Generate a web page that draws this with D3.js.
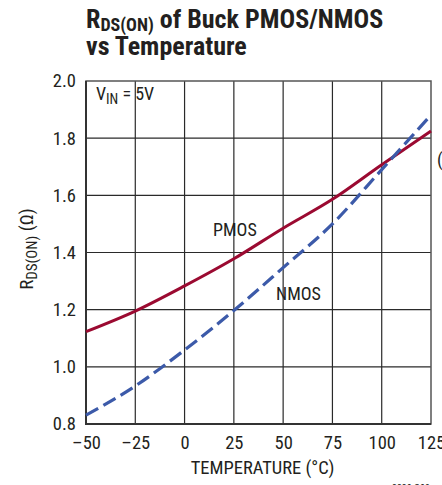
<!DOCTYPE html>
<html>
<head>
<meta charset="utf-8">
<script src="https://cdn.jsdelivr.net/npm/d3@7"></script>
<style>
  body { margin: 0; background: #fff; }
  svg { display: block; }
  text { font-family: 'Liberation Sans Narrow', 'Roboto Condensed', 'DejaVu Sans Condensed', sans-serif; fill: #231f20; }
</style>
</head>
<body>
<script>
// data
const temps = [-50, -25, 0, 25, 50, 75, 100, 125];
const pmos = [1.123, 1.195, 1.283, 1.378, 1.485, 1.586, 1.707, 1.825];
const nmos = [0.831, 0.933, 1.059, 1.197, 1.347, 1.500, 1.690, 1.881];
const xTicks = [-50, -25, 0, 25, 50, 75, 100, 125];
const yTicks = [0.8, 1.0, 1.2, 1.4, 1.6, 1.8, 2.0];

const width = 442, height = 485;
const margin = { top: 81, right: 11, bottom: 61, left: 86 };
const innerW = width - margin.left - margin.right;
const innerH = height - margin.top - margin.bottom;

const svg = d3.select("body").append("svg")
  .attr("width", width)
  .attr("height", height);

const g = svg.append("g")
  .attr("transform", `translate(${margin.left}, ${margin.top})`);

const x = d3.scaleLinear().domain([-50, 125]).range([0, innerW]);
const y = d3.scaleLinear().domain([0.8, 2.0]).range([innerH, 0]);

// grid
g.append("g").selectAll("line")
  .data(xTicks.slice(1, -1))
  .join("line")
  .attr("x1", d => x(d)).attr("x2", d => x(d))
  .attr("y1", 0).attr("y2", innerH)
  .attr("stroke", "#2a2a2a").attr("stroke-width", 1.2);

g.append("g").selectAll("line")
  .data(yTicks.slice(1, -1))
  .join("line")
  .attr("y1", d => y(d)).attr("y2", d => y(d))
  .attr("x1", 0).attr("x2", innerW)
  .attr("stroke", "#2a2a2a").attr("stroke-width", 1.2);

// frame
g.append("rect")
  .attr("width", innerW).attr("height", innerH)
  .attr("fill", "none").attr("stroke", "#555").attr("stroke-width", 1.5);
g.append("path")
  .attr("d", `M0,0V${innerH}H${innerW}`)
  .attr("fill", "none").attr("stroke", "#333").attr("stroke-width", 2);

// axes labels (no tick marks)
const xAxis = d3.axisBottom(x).tickValues(xTicks).tickSize(0).tickPadding(12)
  .tickFormat(d => d < 0 ? "\u2013" + Math.abs(d) : d);
g.append("g")
  .attr("transform", `translate(0, ${innerH})`)
  .call(xAxis)
  .call(s => s.select(".domain").remove())
  .selectAll("text").style("font-size", "18.5px").attr("fill", "#231f20");

const yAxis = d3.axisLeft(y).tickValues(yTicks).tickSize(0).tickPadding(10)
  .tickFormat(d3.format(".1f"));
g.append("g")
  .call(yAxis)
  .call(s => s.select(".domain").remove())
  .selectAll("text").style("font-size", "18.5px").attr("fill", "#231f20");

// curves
const line = d3.line()
  .x((d, i) => x(temps[i]))
  .y(d => y(d))
  .curve(d3.curveMonotoneX);

g.append("path")
  .attr("d", line(pmos))
  .attr("fill", "none").attr("stroke", "#9b0a31").attr("stroke-width", 3);

g.append("path")
  .attr("d", line(nmos))
  .attr("fill", "none").attr("stroke", "#3c5aa9").attr("stroke-width", 3.2)
  .attr("stroke-dasharray", "14,6");

// in-plot labels
const vin = g.append("text").attr("x", 10).attr("y", 19).style("font-size", "18px");
vin.append("tspan").text("V");
vin.append("tspan").attr("dy", 4).style("font-size", "14px").text("IN");
vin.append("tspan").attr("dy", -4).text(" = 5V");

g.append("text").attr("x", 127).attr("y", 155).style("font-size", "18px").text("PMOS");
g.append("text").attr("x", 190).attr("y", 219).style("font-size", "18px").text("NMOS");

// title
const t1 = svg.append("text").attr("x", 86).attr("y", 28)
  .style("font-size", "26px").style("font-weight", "bold");
t1.append("tspan").text("R");
t1.append("tspan").attr("dy", 3).style("font-size", "18px").text("DS(ON)");
t1.append("tspan").attr("dy", -3).text(" of Buck PMOS/NMOS");
svg.append("text").attr("x", 86).attr("y", 55)
  .style("font-size", "26px").style("font-weight", "bold")
  .text("vs Temperature");

// axis titles
svg.append("text")
  .attr("x", margin.left + innerW / 2 + 4).attr("y", 474)
  .attr("text-anchor", "middle").style("font-size", "18.5px")
  .text("TEMPERATURE (\u00b0C)");

const yt = svg.append("text")
  .attr("transform", "translate(33, 249) rotate(-90)")
  .attr("text-anchor", "middle").style("font-size", "19px");
yt.append("tspan").text("R");
yt.append("tspan").attr("dy", 4).style("font-size", "15px").text("DS(ON)");
yt.append("tspan").attr("dy", -4).text(" (\u03a9)");

// cut-off text at the right edge and figure code
svg.append("text").attr("x", 437).attr("y", 166).style("font-size", "18px").text("(");
svg.append("text").attr("x", 392).attr("y", 492).style("font-size", "10px").attr("fill", "#555").text("3330 G09");
</script>
</body>
</html>
